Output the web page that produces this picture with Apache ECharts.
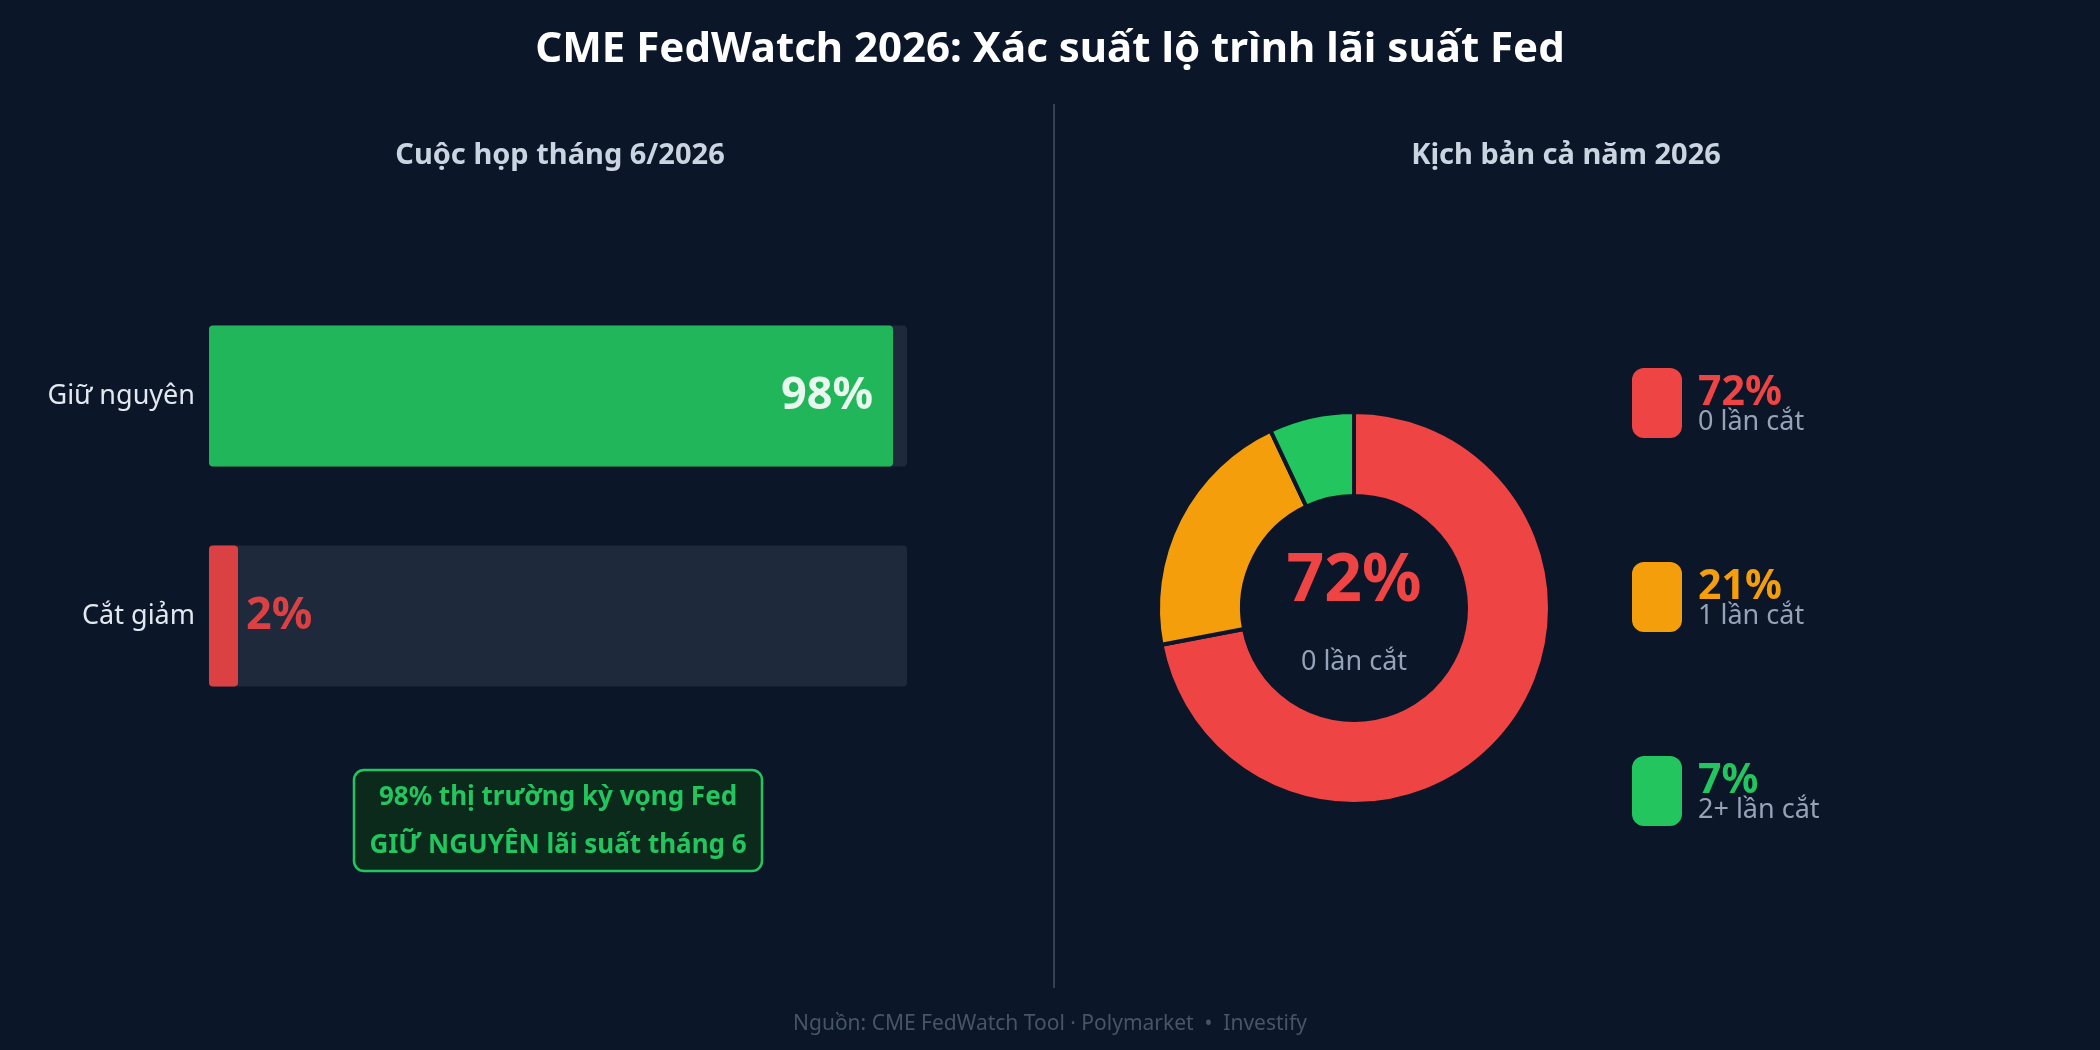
<!DOCTYPE html>
<html>
<head>
<meta charset="utf-8">
<script src="https://cdn.jsdelivr.net/npm/echarts@6/dist/echarts.min.js"></script>
<style>
  html, body { margin: 0; padding: 0; background: #0b1628; }
  #chart { width: 2100px; height: 1050px; }
</style>
</head>
<body>
<div id="chart"></div>
<script>
// cuộc họp tháng 6
const meetingCats = ['Giữ nguyên', 'Cắt giảm']
const meetingValues = [98, 2]
const meetingColors = ['#22c55e', '#ef4444']

// kịch bản cả năm
const scenarioNames = ['0 lần cắt', '1 lần cắt', '2+ lần cắt']
const scenarioValues = [72, 21, 7]
const scenarioColors = ['#ef4444', '#f59e0b', '#22c55e']

const FONT = 'Noto Sans'
const BG = '#0b1628'

const chart = echarts.init(document.getElementById('chart'))

const richKeys = ['r', 'o', 'g']
const legendRich = { l: { fontSize: 27, color: '#94a3b8', lineHeight: 27, fontFamily: FONT } }
scenarioColors.forEach((c, i) => {
  legendRich[richKeys[i]] = { fontSize: 41, fontWeight: 'bold', color: c, lineHeight: 30, fontFamily: FONT }
})

const topIdx = scenarioValues.indexOf(Math.max(...scenarioValues))

chart.setOption({
  backgroundColor: BG,
  title: [
    {
      text: 'CME FedWatch 2026: Xác suất lộ trình lãi suất Fed',
      left: 'center', top: 24,
      textStyle: { color: '#ffffff', fontSize: 42, fontWeight: 'bold', fontFamily: FONT }
    },
    {
      text: 'Cuộc họp tháng 6/2026',
      left: 555, top: 136, textAlign: 'center',
      textStyle: { color: '#cbd5e1', fontSize: 29, fontWeight: 'bold', fontFamily: FONT }
    },
    {
      text: 'Kịch bản cả năm 2026',
      left: 1561, top: 136, textAlign: 'center',
      textStyle: { color: '#cbd5e1', fontSize: 29, fontWeight: 'bold', fontFamily: FONT }
    },
    {
      text: 'Nguồn: CME FedWatch Tool · Polymarket  •  Investify',
      left: 'center', top: 1009,
      textStyle: { color: '#475569', fontSize: 21, fontWeight: 'normal', fontFamily: FONT }
    }
  ],
  grid: { left: 209, right: 1193, top: 286, bottom: 324 },
  xAxis: { type: 'value', min: 0, max: 100, show: false },
  yAxis: {
    type: 'category', data: meetingCats, inverse: true,
    axisLine: { show: false }, axisTick: { show: false },
    axisLabel: { color: '#e2e8f0', fontSize: 27, fontFamily: FONT, margin: 14 }
  },
  legend: {
    orient: 'vertical', left: 1630, top: 366, padding: 0,
    itemWidth: 52, itemHeight: 72, itemGap: 120,
    icon: 'roundRect',
    selectedMode: false,
    data: scenarioNames,
    formatter: name => {
      const i = scenarioNames.indexOf(name)
      return '{' + richKeys[i] + '|' + scenarioValues[i] + '%}\n{l|' + name + '}'
    },
    textStyle: { rich: legendRich, padding: [8, 0, 0, 10] }
  },
  series: [
    {
      type: 'bar',
      barWidth: 141,
      barMinHeight: 29,
      showBackground: true,
      backgroundStyle: { color: '#1e293b', borderRadius: 4 },
      data: meetingValues.map((v, i) => ({
        value: v,
        itemStyle: { color: meetingColors[i], opacity: 0.9, borderRadius: 4 },
        label: i === 0
          ? { show: true, position: 'insideRight', distance: 20, color: '#ffffff' }
          : { show: true, position: 'right', distance: 8, color: meetingColors[i] }
      })),
      label: {
        formatter: '{c}%', fontSize: 45, fontWeight: 'bold', fontFamily: FONT
      },
      silent: true
    },
    {
      type: 'pie',
      center: [1354, 608],
      radius: [112, 196],
      startAngle: 90,
      clockwise: true,
      silent: true,
      label: { show: false },
      labelLine: { show: false },
      itemStyle: { borderColor: BG, borderWidth: 4 },
      data: scenarioNames.map((n, i) => ({
        name: n, value: scenarioValues[i], itemStyle: { color: scenarioColors[i] }
      }))
    }
  ],
  graphic: [
    {
      type: 'line',
      shape: { x1: 1054, y1: 104, x2: 1054, y2: 988 },
      style: { stroke: '#334155', lineWidth: 2 }
    },
    {
      type: 'rect',
      shape: { x: 354, y: 770, width: 408, height: 101, r: 10 },
      style: { fill: '#0c2a1c', stroke: '#22c55e', lineWidth: 2.5 }
    },
    {
      type: 'text',
      x: 558, y: 822,
      style: {
        text: meetingValues[0] + '% thị trường kỳ vọng Fed\nGIỮ NGUYÊN lãi suất tháng 6',
        fill: '#22c55e', fontSize: 26, fontWeight: 'bold', fontFamily: FONT,
        align: 'center', verticalAlign: 'middle', lineHeight: 48
      }
    },
    {
      type: 'text',
      x: 1354, y: 582,
      style: {
        text: scenarioValues[topIdx] + '%',
        fill: scenarioColors[topIdx], fontSize: 66, fontWeight: 'bold', fontFamily: FONT,
        align: 'center', verticalAlign: 'middle'
      }
    },
    {
      type: 'text',
      x: 1354, y: 662,
      style: {
        text: scenarioNames[topIdx],
        fill: '#94a3b8', fontSize: 27, fontFamily: FONT,
        align: 'center', verticalAlign: 'middle'
      }
    }
  ]
})
</script>
</body>
</html>
